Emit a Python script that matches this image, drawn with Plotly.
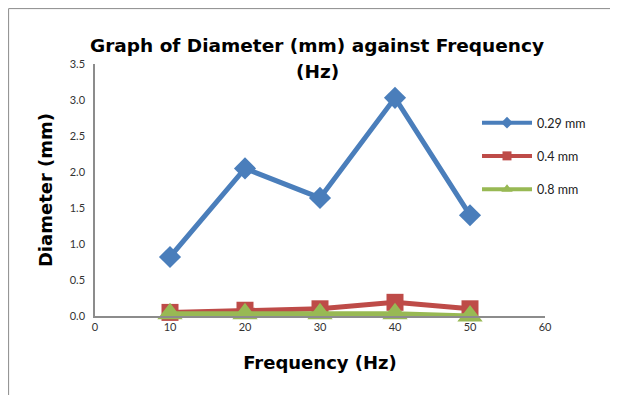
import plotly.graph_objects as go

frequency = [10, 20, 30, 40, 50]
d_029 = [0.82, 2.05, 1.64, 3.03, 1.40]
d_04 = [0.05, 0.08, 0.10, 0.19, 0.10]
d_08 = [0.03, 0.03, 0.03, 0.03, 0.00]
series_names = ["0.29 mm", "0.4 mm", "0.8 mm"]
x_ticks = [0, 10, 20, 30, 40, 50, 60]
y_ticks = [0.0, 0.5, 1.0, 1.5, 2.0, 2.5, 3.0, 3.5]
title_lines = ["Graph of Diameter (mm) against Frequency", "(Hz)"]

# page body has an 8px margin; work in figure pixels (= screenshot - 8)
OFF = 8
W, H = 619 - 2 * OFF, 403 - 2 * OFF
L, R, T, B = 95 - OFF, 545 - OFF, 64 - OFF, 316 - OFF
FONT = "Lato"
TFONT = "DejaVu Sans"

fig = go.Figure()
styles = [
    (d_029, "#4a7ebb", "diamond", 17, 9),
    (d_04, "#be4b48", "square", 17, 9),
    (d_08, "#98b954", "triangle-up", 22, 10),
]
for i, (vals, col, sym, sz, lsz) in enumerate(styles):
    fig.add_trace(go.Scatter(
        x=frequency, y=vals, name=series_names[i], mode="lines+markers",
        line=dict(color=col, width=5),
        marker=dict(symbol=sym, size=sz, color=col),
        cliponaxis=False, showlegend=False,
    ))
for i, (vals, col, sym, sz, lsz) in enumerate(styles):
    fig.add_trace(go.Scatter(
        x=[None], y=[None], name=series_names[i], mode="lines+markers",
        line=dict(color=col, width=4),
        marker=dict(symbol=sym, size=lsz, color=col),
        legendgroup=f"g{i}", showlegend=True,
    ))

def px_x(p):
    return (p - OFF - L) / (R - L)

def px_y(p):
    return (B - (p - OFF)) / (B - T)

fig.update_layout(
    width=W, height=H,
    margin=dict(l=L, r=W - R, t=T, b=H - B, pad=0),
    paper_bgcolor="white", plot_bgcolor="white",
    font=dict(family=FONT, size=11, color="#222"),
    xaxis=dict(
        range=[0, 60], tickvals=x_ticks, ticktext=[str(v) for v in x_ticks],
        showgrid=False, zeroline=False, showline=True, linecolor="#8c8c8c", linewidth=1.5,
        ticks="", tickfont=dict(size=11, color="#333"),
        title=dict(text="<b>Frequency (Hz)</b>", font=dict(family=TFONT, size=18, color="black"), standoff=24),
    ),
    yaxis=dict(
        range=[0, 3.5], tickvals=y_ticks, ticktext=[f"{v:.1f}" for v in y_ticks],
        showgrid=False, zeroline=False, showline=True, linecolor="#8c8c8c", linewidth=1.5,
        ticks="", tickfont=dict(size=11, color="#333"), ticklabelstandoff=6,
        title=dict(text="<b>Diameter (mm)</b>", font=dict(family=TFONT, size=18, color="black"), standoff=12),
    ),
    legend=dict(
        x=px_x(477), y=px_y(108), xanchor="left", yanchor="top",
        font=dict(size=12.5, color="#222"), bgcolor="rgba(0,0,0,0)",
        tracegroupgap=14, itemwidth=50,
    ),
    showlegend=True,
)

for txt, yc in zip(title_lines, [45, 71]):
    fig.add_annotation(
        text=f"<b>{txt}</b>", xref="paper", yref="paper",
        x=px_x(317), y=px_y(yc), xanchor="center", yanchor="middle",
        showarrow=False, font=dict(family=TFONT, size=18.5, color="black"),
    )

# outer chart border: only the top and left edges are visible in the frame
x_l, x_r = px_x(8.6), px_x(OFF + W - 1)
y_t, y_b = px_y(8.6), px_y(OFF + H + 5)
fig.add_shape(type="line", xref="paper", yref="paper", x0=x_l, x1=x_r, y0=y_t, y1=y_t,
              line=dict(color="#8c8c8c", width=1), layer="below")
fig.add_shape(type="line", xref="paper", yref="paper", x0=x_l, x1=x_l, y0=y_t, y1=y_b,
              line=dict(color="#8c8c8c", width=1), layer="below")

fig.write_html("out.html")
